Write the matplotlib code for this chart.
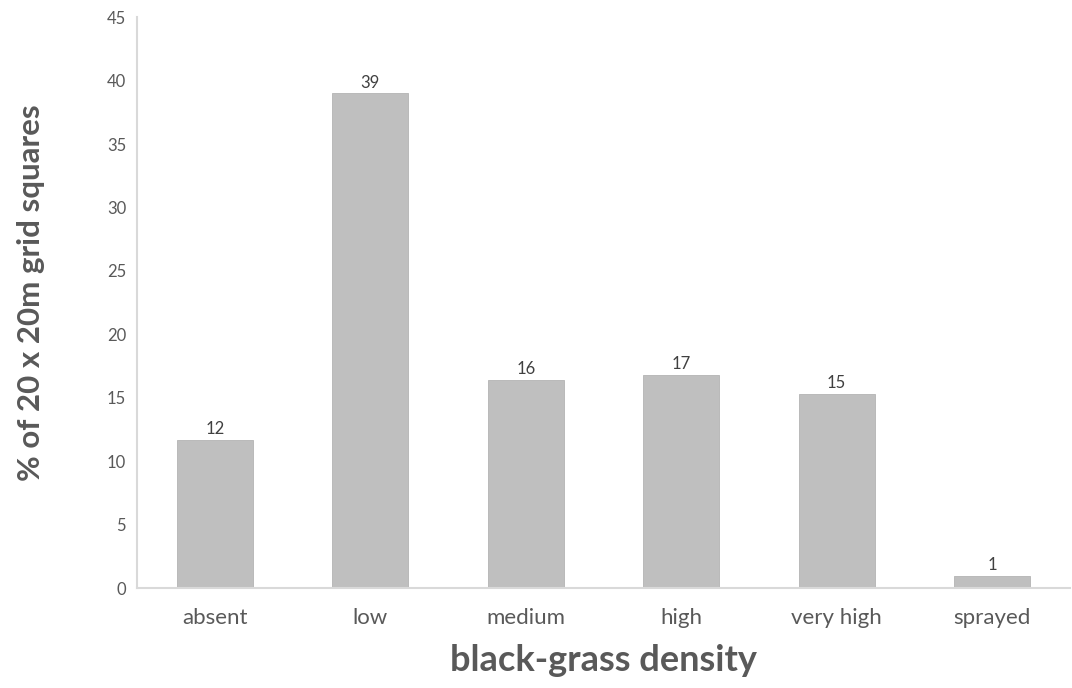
import numpy as np
import matplotlib
matplotlib.use("Agg")
import matplotlib.pyplot as plt

# ----------------------------------------------------------------------
# DATA
# ----------------------------------------------------------------------

categories = ["absent", "low", "medium", "high", "very high", "sprayed"]
percent_of_squares = [11.7, 39.0, 16.4, 16.8, 15.3, 1.0]
y_ticks = [0, 5, 10, 15, 20, 25, 30, 35, 40, 45]

BAR_COLOR = "#bfbfbf"
AXIS_COLOR = "#d9d9d9"
TEXT_COLOR = "#595959"

plt.rcParams["font.family"] = ["Lato", "DejaVu Sans"]

# ----------------------------------------------------------------------
# PLOT
# ----------------------------------------------------------------------

fig = plt.figure(figsize=(10.72, 6.88), dpi=100)
ax = fig.add_axes([0.128, 0.145, 0.870, 0.830])

x = np.arange(len(categories))
bars = ax.bar(x, percent_of_squares, width=0.49, color=BAR_COLOR,
              edgecolor="#b3b3b3", linewidth=0.6, zorder=2)
ax.bar_label(bars, fmt="%.0f", padding=2, fontsize=12, color="#404040")

ax.set_xlim(-0.5, len(categories) - 0.5)
ax.set_ylim(0, 45)
ax.set_yticks(y_ticks)
ax.set_xticks(x)
ax.set_xticklabels(categories, fontsize=16, color=TEXT_COLOR)
ax.tick_params(axis="y", length=0, pad=8, labelsize=12, labelcolor=TEXT_COLOR)
ax.tick_params(axis="x", length=0, pad=14)

for side in ["top", "right"]:
    ax.spines[side].set_visible(False)
for side in ["left", "bottom"]:
    ax.spines[side].set_color(AXIS_COLOR)
    ax.spines[side].set_linewidth(1.5)

ax.set_ylabel("% of 20 x 20m grid squares", fontsize=22.5, fontweight="bold",
              color=TEXT_COLOR)
ax.yaxis.set_label_coords(-0.099, 0.517)
ax.set_xlabel("black-grass density", fontsize=26, fontweight="bold",
              color=TEXT_COLOR, labelpad=12)

fig.savefig("out.png", dpi=100)
